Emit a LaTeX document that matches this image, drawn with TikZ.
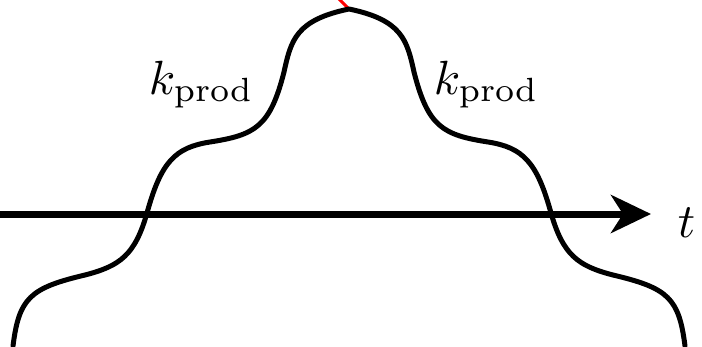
\documentclass[tikz,border=0pt]{standalone}
\usetikzlibrary{arrows.meta}
\begin{document}
\begin{tikzpicture}[x=1pt,y=-1pt,
  curve/.style={line width=5pt, line join=round, line cap=round},
  axisline/.style={line width=7pt, -{Stealth[length=40pt,width=38pt,inset=12pt]}},
  lbl/.style={inner sep=0pt, anchor=base west, scale=4.8},
  redline/.style={red, line width=3pt}]
\useasboundingbox (0,0) rectangle (702,346);
\coordinate (top) at (349,9);
\coordinate (redend) at (337,-3);
\coordinate (axstart) at (-5,214);
\coordinate (axend) at (651,214);
\draw[redline] (top) -- (redend);
\draw[axisline] (axstart) -- (axend);
\draw[curve] (13,346) .. controls (19,298) and (30,288) .. (85,275)
  .. controls (120,266) and (135,255) .. (147,213)
  .. controls (161,162) and (175,147.5) .. (210,142)
  .. controls (255,135) and (270,127) .. (284,72)
  .. controls (291,40) and (296,20) .. (top)
  .. controls (402,20) and (407,40) .. (414,72)
  .. controls (428,127) and (443,135) .. (488,142)
  .. controls (523,147.5) and (537,162) .. (551,213)
  .. controls (563,255) and (578,266) .. (613,275)
  .. controls (668,288) and (679,298) .. (685,346);
\node[lbl] (kl) at (148,94) {$k_{\mathrm{prod}}$};
\node[lbl] (kr) at (433,94) {$k_{\mathrm{prod}}$};
\node[lbl] (t) at (677,237) {$t$};
\end{tikzpicture}
\end{document}
